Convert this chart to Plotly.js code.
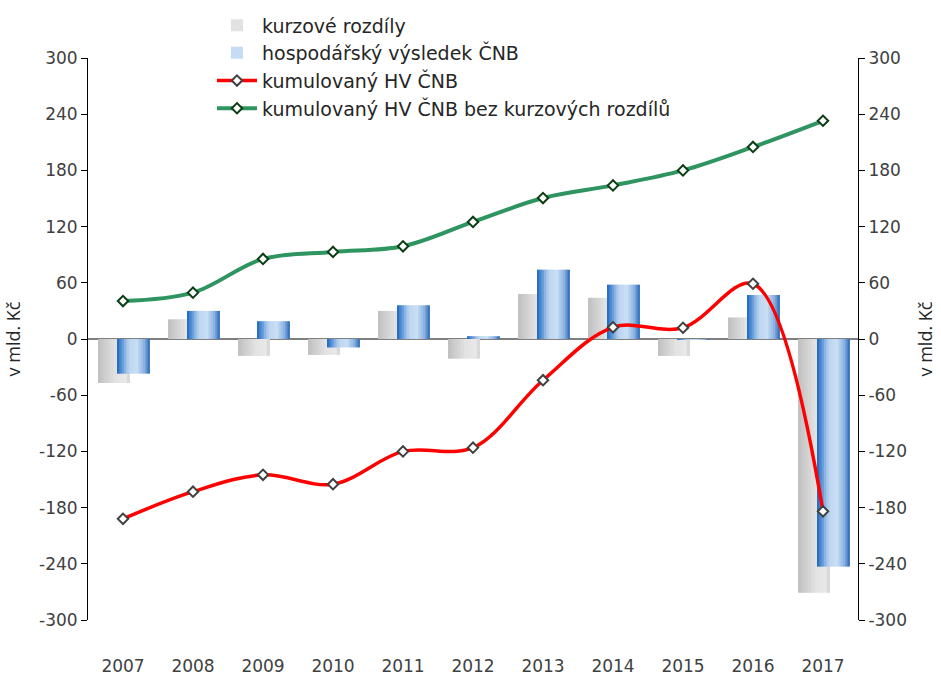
<!DOCTYPE html>
<html><head><meta charset="utf-8">
<script src="https://cdn.plot.ly/plotly-3.0.1.min.js"></script>
<style>html,body{margin:0;padding:0;background:#fff}#chart{width:941px;height:677px}</style>
</head><body><div id="chart"></div>
<script>
// ---- data ----
var years = ['2007','2008','2009','2010','2011','2012','2013','2014','2015','2016','2017'];
var kurzoveRozdily = [-47, 21, -18, -17, 30, -21, 48, 44, -18, 23, -271];
var hospodarskyVysledek = [-37, 30, 19, -9, 36, 3, 74, 58, -1, 47, -243];
var kumulovanyHV = [-192, -163, -145, -155, -120, -116, -44, 12.5, 12, 59, -184];
var kumulovanyHVbez = [40.5, 49.5, 85.5, 93, 99, 125, 150.5, 164, 180, 205, 233];
var yTicks = [-300, -240, -180, -120, -60, 0, 60, 120, 180, 240, 300];

// ---- styling helpers ----
function hex(c){return [parseInt(c.substr(1,2),16),parseInt(c.substr(3,2),16),parseInt(c.substr(5,2),16)];}
function lerpStops(stops, t){
  for (var i=0;i<stops.length-1;i++){
    if (t<=stops[i+1][0]){
      var a=stops[i], b=stops[i+1], f=(t-a[0])/(b[0]-a[0]);
      var ca=hex(a[1]), cb=hex(b[1]);
      return 'rgb('+[0,1,2].map(function(k){return Math.round(ca[k]+(cb[k]-ca[k])*f);}).join(',')+')';
    }
  }
  return stops[stops.length-1][1];
}
var greyStops = [[0,'#bfbfbf'],[0.55,'#e2e2e2'],[0.85,'#e8e8e8'],[1,'#d2d2d2']];
var blueStops = [[0,'#1464be'],[0.12,'#4f8bd2'],[0.35,'#b9d3f0'],[0.6,'#cadff4'],[0.82,'#8db3e2'],[1,'#2566b6']];

var traces = [];
function gradientBars(vals, name, stops, offset, width, n, rank){
  var sw = width/n;
  for (var i=0;i<n;i++){
    var t = (i+0.5)/n;
    var isLegend = (i===Math.floor(n/2));
    traces.push({
      type:'bar', x:years, y:vals, name:name,
      offset: offset + i*sw, width: (i<n-1? sw*1.25 : sw),
      marker:{color: lerpStops(stops,t), line:{width:0}},
      showlegend:isLegend, legendrank:rank, hoverinfo:'skip'
    });
  }
}
gradientBars(kurzoveRozdily, 'kurzové rozdíly', greyStops, -0.357, 0.457, 10, 1);
gradientBars(hospodarskyVysledek, 'hospodářský výsledek ČNB', blueStops, -0.086, 0.471, 14, 2);

traces.push({
  type:'scatter', mode:'lines+markers', x:years, y:kumulovanyHV, name:'kumulovaný HV ČNB',
  line:{color:'#ff0000', width:3.5, shape:'spline', smoothing:1},
  marker:{symbol:'diamond', size:8, color:'#ffffff', line:{color:'#404040', width:2}},
  legendrank:3
});
traces.push({
  type:'scatter', mode:'lines+markers', x:years, y:kumulovanyHVbez, name:'kumulovaný HV ČNB bez kurzových rozdílů',
  line:{color:'#2e9460', width:4, shape:'spline', smoothing:1},
  marker:{symbol:'diamond', size:8, color:'#ffffff', line:{color:'#0b3d12', width:2}},
  legendrank:4
});
// invisible trace to activate right axis
traces.push({type:'scatter', mode:'markers', x:years, y:kumulovanyHVbez, yaxis:'y2', marker:{opacity:0}, showlegend:false, hoverinfo:'skip'});

var fam = 'DejaVu Sans, Verdana, sans-serif';
var font = {family:fam, size:17, color:'#262626'};
var yaxisCommon = {
  range:[-300,300], tickvals:yTicks, ticktext:yTicks.map(String),
  ticks:'outside', ticklen:6, tickcolor:'#000', tickwidth:1,
  showline:true, linecolor:'#000', linewidth:1, showgrid:false,
  title:{text:'v mld. Kč', font:{family:'Open Sans, sans-serif', size:18, color:'#262626'}, standoff:13},
  tickfont:{family:fam, size:17, color:'#404040'}, fixedrange:true
};
var layout = {
  width:941, height:677,
  margin:{l:88, r:83, t:58, b:57, autoexpand:false},
  paper_bgcolor:'#fff', plot_bgcolor:'#fff',
  font:font,
  barmode:'overlay',
  showlegend:true,
  legend:{x:0.161, y:1.092, xanchor:'left', yanchor:'top', bgcolor:'rgba(0,0,0,0)', font:{family:fam, size:19, color:'#262626'}, traceorder:'normal', itemwidth:40, tracegroupgap:0},
  xaxis:{type:'category', showline:false, ticks:'', showgrid:false, zeroline:false,
         tickfont:{family:fam, size:17, color:'#404040'}, ticklabelstandoff:34, range:[-0.5,10.5]},
  yaxis:Object.assign({}, yaxisCommon, {zeroline:true, zerolinecolor:'#7f7f7f', zerolinewidth:2.5}),
  yaxis2:Object.assign({}, yaxisCommon, {overlaying:'y', side:'right', zeroline:false})
};
Plotly.newPlot('chart', traces, layout, {displayModeBar:false, staticPlot:true});
</script></body></html>
